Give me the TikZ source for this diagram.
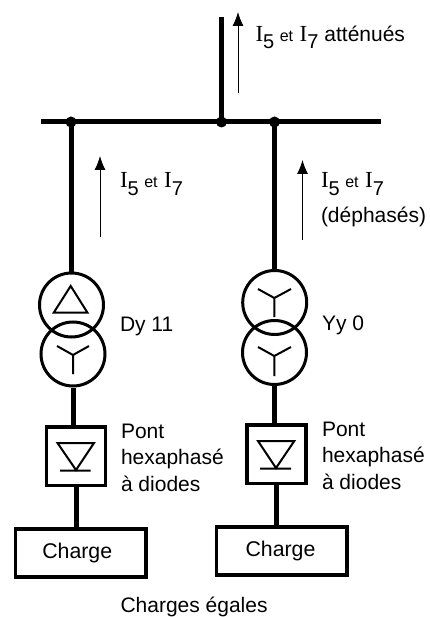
\documentclass[tikz,border=0pt]{standalone}
\usepackage{fontspec}
\setmainfont{Liberation Sans}
\newfontfamily\serifI{Liberation Serif}
\usetikzlibrary{arrows.meta}
\newcommand{\harm}[1]{{\fontsize{23}{23}\serifI I}\raisebox{-7.5pt}{\fontsize{20}{20}\selectfont #1}}
\newcommand{\cinqsept}{\harm{5}\hspace{5.5pt}{\fontsize{16}{16}\selectfont et}\hspace{6.5pt}\harm{7}}
\tikzset{
  x=1pt,y=-1pt,
  bus/.style={line width=5pt},
  feed/.style={line width=5pt},
  junction/.style={circle,fill=black,inner sep=0pt,minimum size=11pt},
  winding/.style={circle,draw,line width=3pt,inner sep=0pt,minimum size=64pt},
  bridge/.style={draw,line width=3.5pt,inner sep=0pt,minimum width=59pt,minimum height=58.5pt},
  load/.style={draw,line width=3.5pt,inner sep=0pt,minimum width=130.5pt,minimum height=48pt,font=\fontsize{21.3}{24}\selectfont},
  glyph/.style={line width=2pt},
  current/.style={line width=0.9pt,-{Latex[length=14pt,width=11pt]}},
  lbl/.style={anchor=base west,inner sep=0pt,outer sep=0pt,font=\fontsize{21}{26.7}\selectfont,align=left},
}
\begin{document}
\begin{tikzpicture}
\useasboundingbox (0,0) rectangle (429,617);
% bus
\coordinate (busL) at (41,122);
\coordinate (busR) at (381,122);
\coordinate (top) at (221.5,17);
\node[junction] (jL) at (71,122) {};
\node[junction] (jM) at (221.5,122) {};
\node[junction] (jR) at (274.5,122) {};
\draw[bus] (busL) -- (busR);
\draw[feed] (top) -- (jM.center);
% left branch
\node[winding] (tl1) at (71.5,305) {};
\node[winding] (tl2) at (73,354) {};
\node[bridge] (bl) at (76,456) {};
\node[load] (cl) at (80.75,553) {Charge\hspace*{7pt}};
\draw[feed] (jL.center) -- (jL.center |- tl1.north);
\draw[feed] (tl2.south) -- (tl2.south |- bl.north);
\draw[feed] (bl.south) -- (bl.south |- cl.north);
\draw[glyph] (70.7,286) -- (87.5,312.7) -- (53.7,312.7) -- cycle;
\draw[glyph] (57,346) -- (73,355) -- (89,346) (73,355) -- (73,374);
\draw[glyph] (57.5,443) -- (94,443) -- (76,470) -- cycle (60,470.5) -- (90.7,470.5);
% right branch
\node[winding] (tr1) at (274.7,302.5) {};
\node[winding] (tr2) at (274.5,352.5) {};
\node[bridge] (br) at (276.3,454) {};
\node[load] (cr) at (281.5,551) {Charge\hspace*{2pt}};
\draw[feed] (jR.center) -- (jR.center |- tr1.north);
\draw[feed] (tr2.south) -- (tr2.south |- br.north);
\draw[feed] (br.south) -- (br.south |- cr.north);
\draw[glyph] (258,289) -- (274.3,298) -- (291,289) (274.3,298) -- (274.3,317);
\draw[glyph] (258,347) -- (274.3,356) -- (291,347) (274.3,356) -- (274.3,376);
\draw[glyph] (258,441) -- (294.3,441) -- (276,468) -- cycle (260,468.5) -- (291,468.5);
% currents
\coordinate (a1) at (238,93); \coordinate (a2) at (238,12);
\coordinate (b1) at (100,237); \coordinate (b2) at (100,156);
\coordinate (c1) at (302.5,240); \coordinate (c2) at (302.5,160);
\draw[current] (a1) -- (a2);
\draw[current] (b1) -- (b2);
\draw[current] (c1) -- (c2);
% labels
\node[lbl] (t1) at (255.5,41.5) {\cinqsept\hspace{6pt}atténués};
\node[lbl] (t2) at (120,188) {\cinqsept};
\node[lbl] (t3) at (321,188) {\cinqsept};
\node[lbl] (t4) at (321,222.7) {(déphasés)};
\node[lbl] (t5) at (120,331) {Dy 11};
\node[lbl] (t6) at (322,330) {Yy 0};
\node[lbl] (t7) at (121,491.5) {Pont\\hexaphasé\\à diodes};
\node[lbl] (t8) at (322,489.5) {Pont\\hexaphasé\\à diodes};
\node[lbl] (t9) at (120.5,612) {Charges égales};
\end{tikzpicture}
\end{document}
